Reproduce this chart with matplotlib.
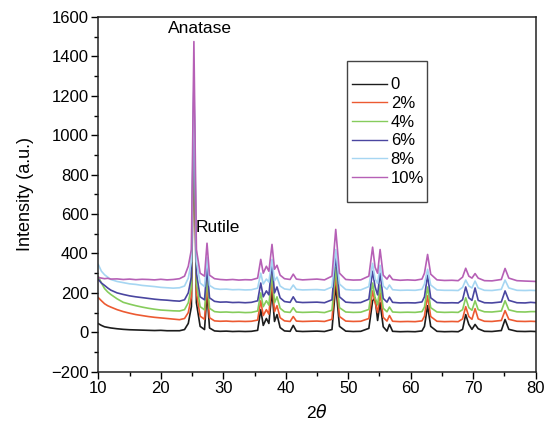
import numpy as np
import matplotlib
matplotlib.use("Agg")
import matplotlib.pyplot as plt
from matplotlib.ticker import MultipleLocator
from matplotlib.patches import Rectangle

plt.rcParams['font.family'] = ['Liberation Sans', 'DejaVu Sans']

# shared 2-theta grid (degrees)
two_theta = [10, 10.5, 11, 11.5, 12, 13, 14, 15, 16, 17,
             18, 19, 20, 21, 22, 23, 23.8, 24.4, 24.9, 25.3,
             25.7, 26.3, 27.0, 27.4, 27.8, 28.6, 29.5, 30.5, 31.5, 32.5,
             33.5, 34.5, 35.5, 36.0, 36.4, 36.9, 37.3, 37.8, 38.2, 38.6,
             39.1, 39.8, 40.7, 41.2, 41.7, 42.7, 43.8, 45, 46.2, 47.4,
             48.0, 48.6, 49.6, 50.8, 52, 53.3, 53.9, 54.3, 54.7, 55.1,
             55.6, 56.2, 56.6, 57.1, 58.3, 59.5, 60.7, 61.8, 62.2, 62.7,
             63.2, 64.2, 65.4, 66.6, 67.6, 68.3, 68.8, 69.3, 69.8, 70.3,
             70.8, 71.8, 73, 74.5, 75.1, 75.7, 77, 78.3, 79.2, 80]

labels = ['0', '2%', '4%', '6%', '8%', '10%']

i_0 = [44, 35, 28, 25, 22, 18, 15, 13, 12, 11,
       10, 9, 10, 8, 8, 8, 14, 45, 130, 1100,
       150, 30, 14, 200, 22, 7, 5, 6, 4, 5,
       4, 5, 10, 115, 35, 70, 45, 210, 55, 90,
       24, 7, 5, 35, 6, 4, 5, 6, 4, 14,
       240, 30, 6, 4, 5, 20, 160, 175, 60, 150,
       28, 6, 40, 5, 3, 4, 3, 7, 30, 135,
       30, 5, 3, 4, 3, 15, 90, 40, 15, 40,
       18, 5, 4, 9, 65, 15, 5, 4, 5, 4]

i_2 = [176, 160, 145, 135, 128, 115, 105, 97, 90, 85,
       80, 76, 73, 70, 67, 64, 70, 100, 180, 1150,
       200, 82, 66, 240, 74, 58, 56, 57, 55, 56,
       55, 56, 62, 160, 85, 115, 92, 260, 105, 135,
       74, 58, 55, 80, 57, 55, 56, 57, 55, 66,
       290, 80, 57, 55, 56, 70, 210, 150, 100, 200,
       76, 57, 85, 56, 54, 55, 54, 58, 82, 185,
       80, 56, 54, 55, 54, 68, 130, 80, 66, 120,
       68, 56, 55, 60, 110, 66, 56, 55, 56, 55]

i_4 = [283, 250, 222, 205, 192, 170, 152, 143, 135, 128,
       122, 117, 113, 111, 109, 108, 115, 150, 230, 1200,
       250, 130, 114, 280, 122, 105, 102, 103, 101, 102,
       100, 101, 108, 200, 130, 160, 138, 300, 150, 180,
       122, 104, 101, 125, 103, 101, 102, 103, 100, 112,
       330, 125, 103, 101, 102, 116, 250, 175, 140, 240,
       122, 104, 128, 103, 101, 102, 101, 105, 128, 230,
       125, 103, 101, 102, 101, 115, 175, 125, 112, 160,
       115, 104, 103, 108, 160, 114, 104, 103, 105, 105]

i_6 = [268, 250, 238, 225, 214, 200, 192, 185, 180, 176,
       172, 168, 165, 163, 160, 158, 165, 200, 280, 1250,
       300, 180, 165, 330, 175, 157, 153, 154, 151, 152,
       150, 152, 160, 250, 180, 210, 190, 350, 200, 230,
       175, 156, 152, 180, 154, 151, 152, 153, 150, 165,
       390, 180, 153, 150, 151, 168, 310, 230, 190, 300,
       172, 153, 178, 152, 149, 150, 149, 154, 180, 290,
       175, 151, 149, 150, 149, 165, 230, 175, 162, 225,
       162, 150, 149, 154, 210, 162, 150, 149, 152, 150]

i_8 = [344, 310, 292, 280, 268, 258, 252, 246, 243, 238,
       235, 232, 228, 226, 224, 226, 235, 275, 360, 1300,
       360, 250, 232, 380, 238, 222, 218, 219, 216, 217,
       215, 216, 224, 300, 245, 270, 255, 370, 262, 280,
       235, 220, 216, 240, 218, 215, 216, 217, 214, 230,
       420, 245, 217, 214, 215, 232, 350, 270, 248, 340,
       235, 218, 240, 216, 213, 214, 213, 218, 245, 320,
       240, 215, 213, 213, 212, 228, 265, 235, 225, 260,
       225, 213, 212, 218, 265, 225, 213, 212, 213, 212]

i_10 = [278, 275, 272, 274, 270, 271, 268, 270, 267, 269,
        268, 266, 269, 266, 268, 272, 285, 335, 420, 1475,
        420, 300, 285, 452, 290, 272, 268, 266, 268, 265,
        267, 266, 275, 370, 300, 335, 310, 446, 320, 340,
        290, 272, 268, 295, 270, 266, 268, 270, 266, 285,
        522, 300, 268, 265, 266, 285, 432, 330, 300, 420,
        290, 270, 290, 268, 264, 266, 264, 270, 300, 395,
        295, 266, 263, 264, 262, 280, 325, 285, 275, 298,
        275, 262, 261, 268, 324, 275, 262, 260, 259, 258]

series = [i_0, i_2, i_4, i_6, i_8, i_10]
colors = ['#1c1c1c', '#ec5a32', '#86cc5c', '#4a46a0', '#a6d6f2', '#b660b6']

fig = plt.figure(figsize=(5.51, 4.24), dpi=100)
ax = fig.add_axes([0.1784, 0.1233, 0.7938, 0.8367])

for y, c, lab in zip(series, colors, labels):
    ax.plot(two_theta, y, color=c, lw=1.2, label=lab)

ax.set_xlim(10, 80)
ax.set_ylim(-200, 1600)
ax.xaxis.set_major_locator(MultipleLocator(10))
ax.xaxis.set_minor_locator(MultipleLocator(5))
ax.yaxis.set_major_locator(MultipleLocator(200))
ax.yaxis.set_minor_locator(MultipleLocator(100))
ax.tick_params(which='both', direction='out', labelsize=12, width=1, top=False, right=False)
ax.tick_params(which='major', length=5, pad=2)
ax.tick_params(which='minor', length=3)
for s in ax.spines.values():
    s.set_linewidth(1.1)
    s.set_color('#222222')

ax.set_xlabel('2$\\theta$', fontsize=12.5, labelpad=5)
ax.set_ylabel('Intensity (a.u.)', fontsize=13, labelpad=12)

ax.text(26.2, 1540, 'Anatase', fontsize=12.5, ha='center', va='center')
ax.text(25.6, 532, 'Rutile', fontsize=12.5, ha='left', va='center')

# legend frame drawn separately (taller than wide padding)
ax.add_patch(Rectangle((0.5686, 0.478), 0.1829, 0.398, transform=ax.transAxes,
                       fill=False, edgecolor='#444444', lw=1.0, zorder=5))
leg = ax.legend(loc='center', bbox_to_anchor=(0.662, 0.677), fontsize=12,
                handlelength=2.15, handletextpad=0.2, labelspacing=0.22,
                borderpad=0.2, frameon=False)
for h in leg.get_lines():
    h.set_linewidth(1.0)

fig.savefig('out.png', dpi=100)
